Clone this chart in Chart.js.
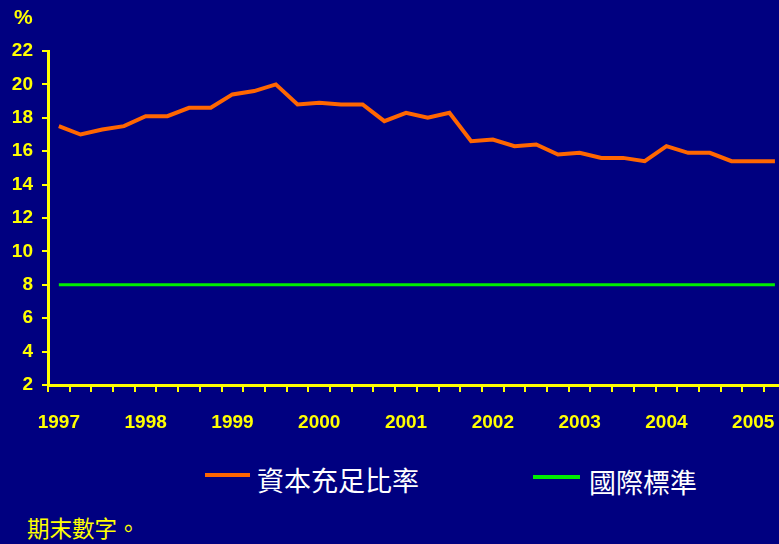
<!DOCTYPE html>
<html>
<head>
<meta charset="utf-8">
<script src="https://cdn.jsdelivr.net/npm/chart.js@4"></script>
<style>
  html, body { margin: 0; padding: 0; overflow: hidden; background: #000080; }
  body { width: 779px; height: 544px; position: relative; }
  #wrap { position: absolute; left: 0; top: 0; width: 794px; height: 440px; }
  #unit { position: absolute; left: 14px; top: 5px; color: #ffff00; font: bold 21px "Liberation Sans", Arial, sans-serif; line-height: 24px; }
  .leg { position: absolute; color: #ffffff; font: 27px "Noto Sans CJK TC", sans-serif; line-height: 27px; white-space: nowrap; }
  .swatch { position: absolute; height: 4px; }
  #note { position: absolute; left: 27px; top: 514px; color: #ffff00; font: 22.5px "Noto Sans CJK TC", sans-serif; line-height: 26px; }
</style>
</head>
<body>
<div id="wrap"><canvas id="chart" width="794" height="440"></canvas></div>
<div id="unit">%</div>
<div id="legend"></div>
<div id="note">期末數字。</div>
<script>
// quarterly observations, end of period
const categories = [
    '1997-Q1', '1997-Q2', '1997-Q3', '1997-Q4',
    '1998-Q1', '1998-Q2', '1998-Q3', '1998-Q4',
    '1999-Q1', '1999-Q2', '1999-Q3', '1999-Q4',
    '2000-Q1', '2000-Q2', '2000-Q3', '2000-Q4',
    '2001-Q1', '2001-Q2', '2001-Q3', '2001-Q4',
    '2002-Q1', '2002-Q2', '2002-Q3', '2002-Q4',
    '2003-Q1', '2003-Q2', '2003-Q3', '2003-Q4',
    '2004-Q1', '2004-Q2', '2004-Q3', '2004-Q4',
    '2005-Q1', '2005-Q2'
];
const capitalRatio = [
    17.5, 17.0, 17.3, 17.5,
    18.1, 18.1, 18.6, 18.6,
    19.4, 19.6, 20.0, 18.8,
    18.9, 18.8, 18.8, 17.8,
    18.3, 18.0, 18.3, 16.6,
    16.7, 16.3, 16.4, 15.8,
    15.9, 15.6, 15.6, 15.4,
    16.3, 15.9, 15.9, 15.4,
    15.4, 15.4
];
const intlStandard = [
    8, 8, 8, 8, 8, 8, 8, 8, 8, 8, 8, 8, 8, 8, 8, 8, 8,
    8, 8, 8, 8, 8, 8, 8, 8, 8, 8, 8, 8, 8, 8, 8, 8, 8
];
const seriesNames = ['資本充足比率', '國際標準'];
const yTicks = { min: 2, max: 22, step: 2 };

const yellow = '#ffff00';
Chart.defaults.font.family = '"Liberation Sans", Arial, sans-serif';
Chart.defaults.color = yellow;

const chart = new Chart(document.getElementById('chart'), {
    type: 'line',
    data: {
        labels: categories,
        datasets: [
            { label: seriesNames[0], data: capitalRatio, borderColor: '#ff6600', borderWidth: 4, pointRadius: 0, tension: 0 },
            { label: seriesNames[1], data: intlStandard, borderColor: '#00ee00', borderWidth: 3, pointRadius: 0, tension: 0 }
        ]
    },
    options: {
        responsive: false,
        animation: false,
        layout: { padding: { left: 8, right: 5, top: 51, bottom: 4 } },
        plugins: {
            legend: { display: false },
            tooltip: { enabled: false },
            title: { display: false }
        },
        scales: {
            x: {
                offset: true,
                grid: { display: true, drawOnChartArea: false, offset: true, color: yellow, lineWidth: 2, tickLength: 7 },
                border: { color: yellow, width: 3 },
                ticks: {
                    autoSkip: false, maxRotation: 0, padding: 19,
                    font: { size: 19, weight: 'bold' },
                    callback: function (value) {
                        const lab = this.getLabelForValue(value);
                        return lab.endsWith('Q1') ? lab.slice(0, 4) : '';
                    }
                },
                afterFit: function (scale) { scale.height = 51; }
            },
            y: {
                min: yTicks.min, max: yTicks.max,
                grid: { display: true, drawOnChartArea: false, color: yellow, lineWidth: 2, tickLength: 6 },
                border: { color: yellow, width: 3 },
                ticks: { stepSize: yTicks.step, padding: 9, font: { size: 19, weight: 'bold' } },
                afterFit: function (scale) { scale.width = 40; }
            }
        }
    }
});

// legend built from the datasets
const legendPos = [
    { swatch: 205, width: 45, text: 257, y: 475 },
    { swatch: 533, width: 47, text: 589, y: 477 }
];
const legendBox = document.getElementById('legend');
chart.data.datasets.forEach(function (ds, i) {
    const p = legendPos[i];
    const sw = document.createElement('div');
    sw.className = 'swatch';
    sw.style.left = p.swatch + 'px';
    sw.style.top = (p.y - 2) + 'px';
    sw.style.width = p.width + 'px';
    sw.style.background = ds.borderColor;
    legendBox.appendChild(sw);
    const tx = document.createElement('div');
    tx.className = 'leg';
    tx.style.left = p.text + 'px';
    tx.style.top = (p.y - 9) + 'px';
    tx.textContent = ds.label;
    legendBox.appendChild(tx);
});
</script>
</body>
</html>
